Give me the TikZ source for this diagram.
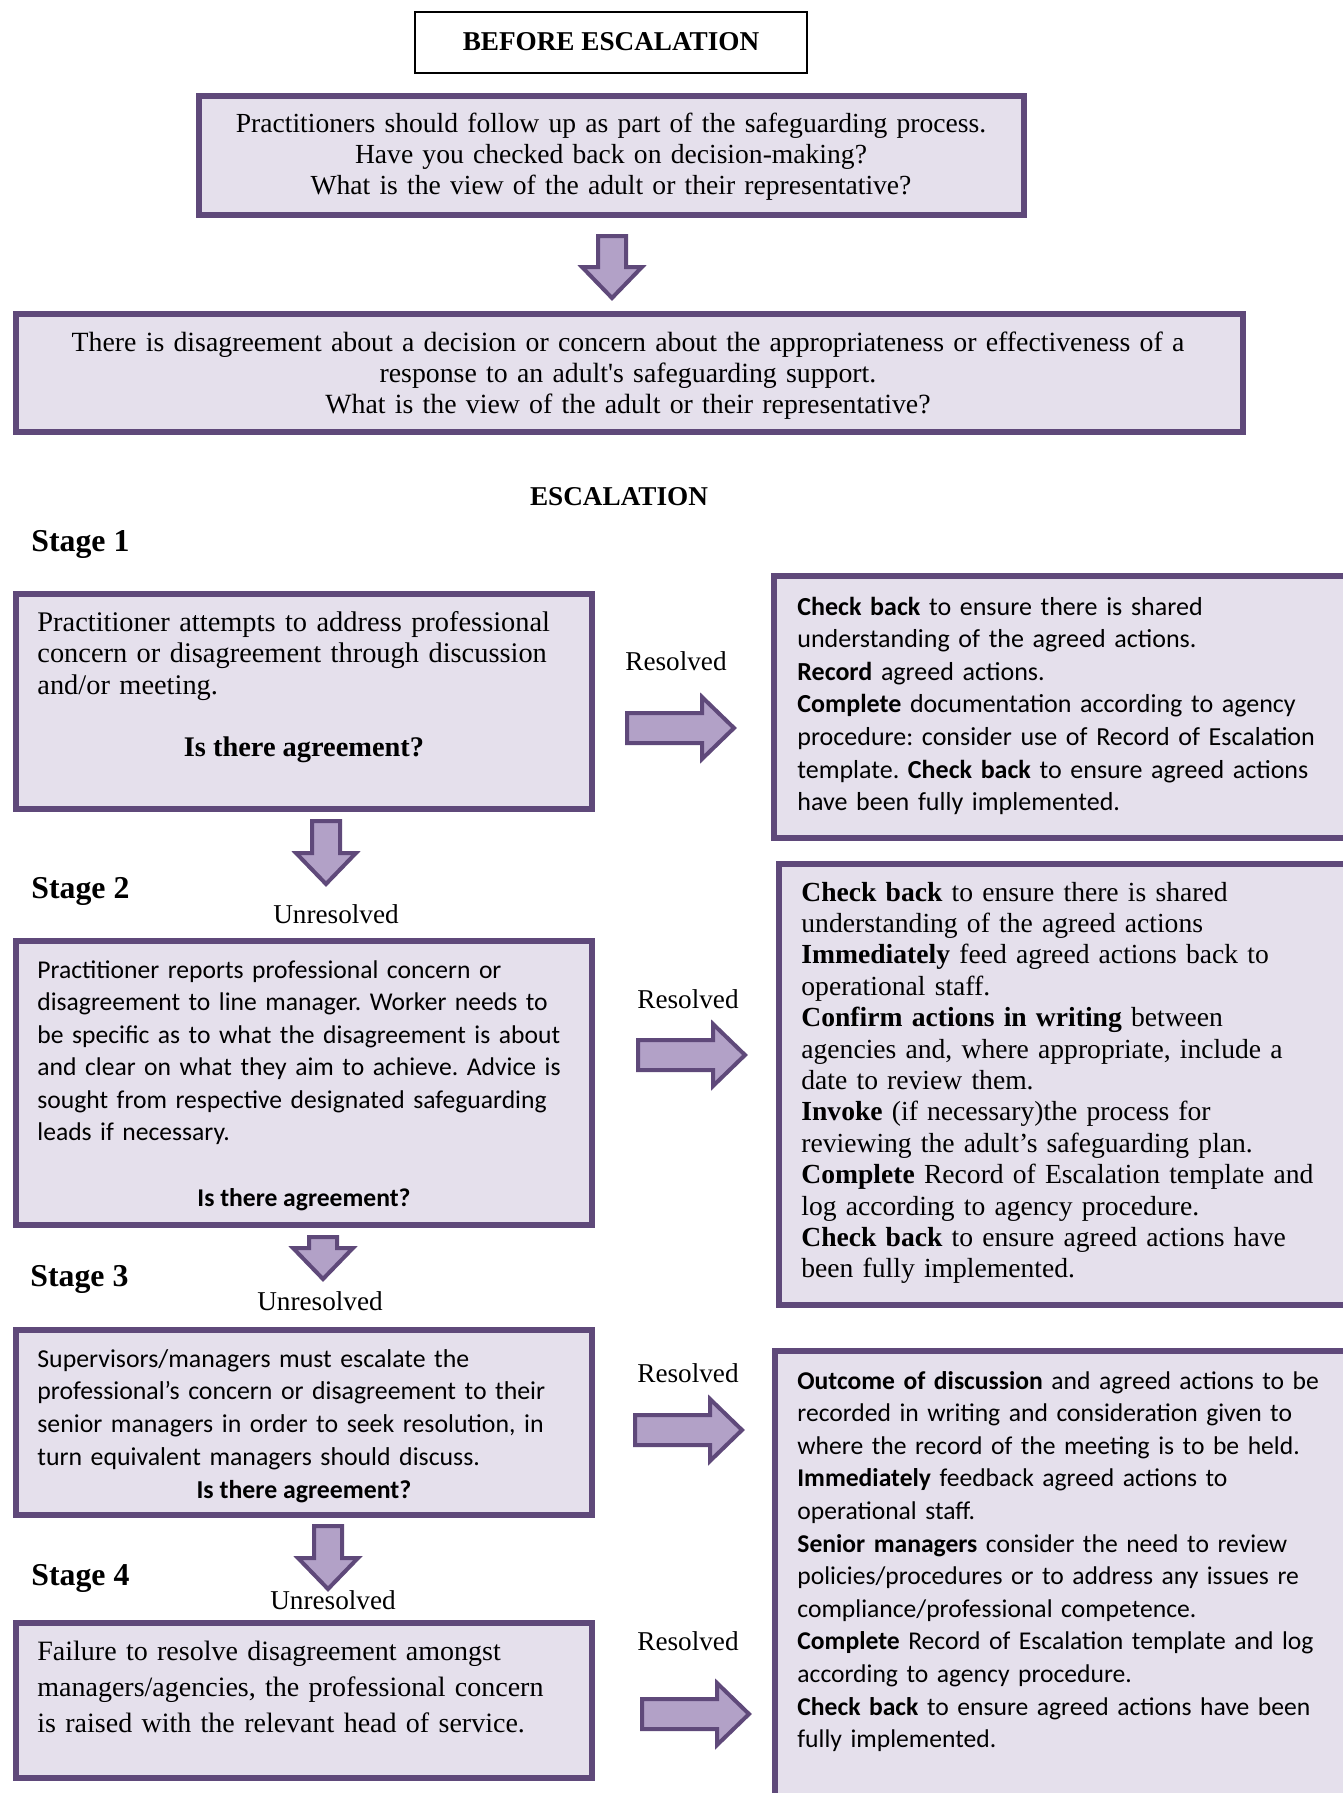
\documentclass[tikz,border=0pt]{standalone}
\usepackage{fontspec}
\usepackage{tikz}
\usetikzlibrary{fit}
\setmainfont{Liberation Serif}
\newfontfamily\calibri{Carlito}
\frenchspacing

\definecolor{boxline}{HTML}{5F497A}
\definecolor{boxfill}{HTML}{E5E0EC}
\definecolor{arrowfill}{HTML}{B2A1C7}

\begin{document}
\begin{tikzpicture}[x=0.5pt, y=-0.5pt,
    stagebox/.style={draw=boxline, fill=boxfill, line width=2.9pt, inner sep=0pt},
    titlebox/.style={draw=black, line width=1pt, inner sep=0pt},
    blockarrow/.style={draw=boxline, fill=arrowfill, line width=2pt, line join=miter},
    serif/.style={font=\fontsize{14.3}{15.6}\selectfont, inner sep=0pt},
    sans/.style={font=\calibri\fontsize{12.9}{16.3}\selectfont, inner sep=0pt},
    outcome/.style={font=\fontsize{13.6}{16}\selectfont, inner sep=0pt, anchor=base},
    stage/.style={font=\bfseries\fontsize{15.9}{18}\selectfont, inner sep=0pt, anchor=base west},
    heading/.style={font=\bfseries\fontsize{13.6}{16}\selectfont, inner sep=0pt, anchor=base},
    pics/downarrow/.style={code={
        \draw[blockarrow] (-14,0) -- (14,0) -- (14,#1-31) -- (30,#1-31) -- (0,#1)
            -- (-30,#1-31) -- (-14,#1-31) -- cycle;
    }},
    pics/rightarrow/.style={code={
        \draw[blockarrow] (0,-15) -- (#1-32,-15) -- (#1-32,-31) -- (#1,0)
            -- (#1-32,31) -- (#1-32,15) -- (0,15) -- cycle;
    }}]

    % Cadre de la page
    \useasboundingbox (0,0) rectangle (1343,1793);
    \clip (0,0) rectangle (1343,1793);

    % Avant l'escalade
    \node[titlebox, fit={(415,12) (807,73)}] (title) {};
    \node[heading] (titletext) at (611,51) {BEFORE ESCALATION};

    \node[stagebox, fit={(199,96) (1024,215)}] (follow) {};
    \node[serif, anchor=base, text width=420pt, align=center,
          font=\fontsize{13.8}{15.5}\selectfont] (followtext) at (611,133)
        {Practitioners should follow up as part of the safeguarding process.\\
         Have you checked back on decision-making?\\
         What is the view of the adult or their representative?};

    \pic (dA) at (612,236) {downarrow=62};

    \node[stagebox, fit={(16,314) (1243,432)}] (dispute) {};
    \node[serif, anchor=base, text width=600pt, align=center,
          font=\fontsize{13.9}{15.6}\selectfont] (disputetext) at (628,351)
        {There is disagreement about a decision or concern about the appropriateness or effectiveness of a\\
         response to an adult\textquotesingle s safeguarding support.\\
         What is the view of the adult or their representative?};

    % Escalade
    \node[heading] (esc) at (619,505) {ESCALATION};

    % Etape 1
    \node[stage] (st1) at (31,551) {Stage 1};
    \node[stagebox, fit={(16,594) (592,809)}] (s1) {};
    \node[serif, anchor=base west, text width=285pt, align=left,
          font=\fontsize{14.2}{15.75}\selectfont] (s1text) at (37,631)
        {Practitioner attempts to address professional\\
         concern or disagreement through discussion\\
         and/or meeting.};
    \node[serif, anchor=base, font=\bfseries\fontsize{14.2}{15.75}\selectfont] (s1q) at (304,756)
        {Is there agreement?};

    \node[outcome] (res1) at (676,670) {Resolved};
    \pic (rA) at (627,728) {rightarrow=107};

    \node[stagebox, fit={(774,576) (1360,838)}] (r1) {};
    \node[sans, anchor=base west, text width=290pt, align=left,
          font=\calibri\fontsize{13.0}{16.3}\selectfont] (r1text) at (797,615)
        {\textbf{Check back} to ensure there is shared\\
         understanding of the agreed actions.\\
         \textbf{Record} agreed actions.\\
         \textbf{Complete} documentation according to agency\\
         procedure: consider use of Record of Escalation\\
         template. \textbf{Check back} to ensure agreed actions\\
         have been fully implemented.};

    % Etape 2
    \pic (dB) at (326,821) {downarrow=63};
    \node[stage] (st2) at (31,898) {Stage 2};
    \node[outcome] (unres2) at (336,923) {Unresolved};
    \node[stagebox, fit={(16,941) (592,1225)}] (s2) {};
    \node[sans, anchor=base west, text width=285pt, align=left,
          font=\calibri\fontsize{12.8}{16.25}\selectfont] (s2text) at (37,978)
        {Practitioner reports professional concern or\\
         disagreement to line manager. Worker needs to\\
         be specific as to what the disagreement is about\\
         and clear on what they aim to achieve. Advice is\\
         sought from respective designated safeguarding\\
         leads if necessary.};
    \node[sans, anchor=base, font=\calibri\bfseries\fontsize{12.8}{16.3}\selectfont] (s2q) at (304,1206)
        {Is there agreement?};

    \node[outcome] (res2) at (688,1008) {Resolved};
    \pic (rB) at (638,1055) {rightarrow=107};

    \node[stagebox, fit={(779,864) (1360,1305)}] (r2) {};
    \node[serif, anchor=base west, text width=290pt, align=left,
          font=\fontsize{13.8}{15.7}\selectfont] (r2text) at (801,901)
        {\textbf{Check back} to ensure there is shared\\
         understanding of the agreed actions\\
         \textbf{Immediately} feed agreed actions back to\\
         operational staff.\\
         \textbf{Confirm actions in writing} between\\
         agencies and, where appropriate, include a\\
         date to review them.\\
         \textbf{Invoke} (if necessary)the process for\\
         reviewing the adult’s safeguarding plan.\\
         \textbf{Complete} Record of Escalation template and\\
         log according to agency procedure.\\
         \textbf{Check back} to ensure agreed actions have\\
         been fully implemented.};

    % Etape 3
    \pic (dC) at (323,1237) {downarrow=42};
    \node[stage] (st3) at (30,1286) {Stage 3};
    \node[outcome] (unres3) at (320,1310) {Unresolved};
    \node[stagebox, fit={(16,1330) (592,1515)}] (s3) {};
    \node[sans, anchor=base west, text width=285pt, align=left,
          font=\calibri\fontsize{12.9}{16.4}\selectfont] (s3text) at (37,1367)
        {Supervisors/managers must escalate the\\
         professional’s concern or disagreement to their\\
         senior managers in order to seek resolution, in\\
         turn equivalent managers should discuss.};
    \node[sans, anchor=base, font=\calibri\bfseries\fontsize{12.9}{16.3}\selectfont] (s3q) at (304,1498)
        {Is there agreement?};

    \node[outcome] (res3) at (688,1382) {Resolved};
    \pic (rC) at (635,1430) {rightarrow=107};

    \node[stagebox, fit={(775,1351) (1360,1810)}] (r3) {};
    \node[sans, anchor=base west, text width=290pt, align=left,
          font=\calibri\fontsize{12.8}{16.3}\selectfont] (r3text) at (797,1389)
        {\textbf{Outcome of discussion} and agreed actions to be\\
         recorded in writing and consideration given to\\
         where the record of the meeting is to be held.\\
         \textbf{Immediately} feedback agreed actions to\\
         operational staff.\\
         \textbf{Senior managers} consider the need to review\\
         policies/procedures or to address any issues re\\
         compliance/professional competence.\\
         \textbf{Complete} Record of Escalation template and log\\
         according to agency procedure.\\
         \textbf{Check back} to ensure agreed actions have been\\
         fully implemented.};

    % Etape 4
    \pic (dD) at (328,1526) {downarrow=63};
    \node[stage] (st4) at (31,1585) {Stage 4};
    \node[outcome] (unres4) at (333,1609) {Unresolved};
    \node[stagebox, fit={(16,1623) (592,1778)}] (s4) {};
    \node[serif, anchor=base west, text width=285pt, align=left,
          font=\fontsize{14.0}{18}\selectfont] (s4text) at (37,1660)
        {Failure to resolve disagreement amongst\\
         managers/agencies, the professional concern\\
         is raised with the relevant head of service.};

    \node[outcome] (res4) at (688,1650) {Resolved};
    \pic (rD) at (642,1714) {rightarrow=107};

\end{tikzpicture}
\end{document}
